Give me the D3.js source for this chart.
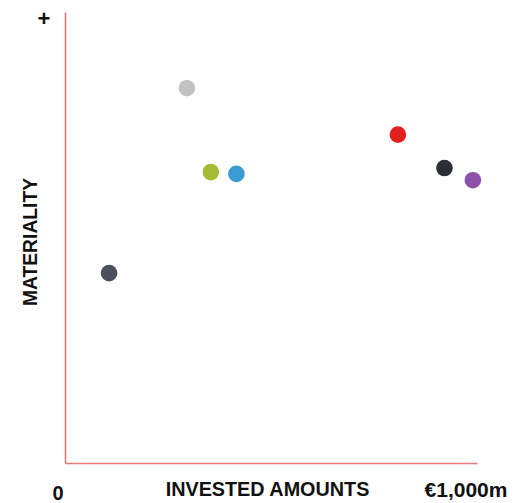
<!DOCTYPE html>
<html>
<head>
<meta charset="utf-8">
<script src="https://cdn.jsdelivr.net/npm/d3@7"></script>
<style>
  html, body { margin: 0; padding: 0; background: #fff; }
  svg { display: block; }
  text { font-family: "Liberation Sans", Arial, sans-serif; font-weight: 700; fill: #111; }
</style>
</head>
<body>
<svg id="chart" width="515" height="503"></svg>
<script>
// Portfolio positions: invested amount (€m) against materiality score (0–100)
const names = ["A", "B", "C", "D", "E", "F", "G"];
const invested = [107, 296, 354, 416, 808, 921, 990];
const materiality = [42.1, 83.1, 64.5, 64.1, 72.8, 65.4, 62.7];
const colors = ["#4c505c", "#c2c2c2", "#a5ba35", "#3d9bd3", "#e0211f", "#2b2f35", "#8c51a9"];
const xDomain = [0, 1000];
const yDomain = [0, 100];

const svg = d3.select("#chart");
const plot = { left: 65, right: 477, top: 12, bottom: 463 };

const x = d3.scaleLinear().domain(xDomain).range([plot.left, plot.right]);
const y = d3.scaleLinear().domain(yDomain).range([plot.bottom, plot.top]);

const axisColor = "#e77a78";

// Axes as bare lines without ticks
const xAxis = d3.axisBottom(x).tickValues([]).tickSizeOuter(0);
const yAxis = d3.axisLeft(y).tickValues([]).tickSizeOuter(0);

svg.append("g").attr("transform", `translate(0,${plot.bottom})`).call(xAxis)
  .call(g => g.select(".domain").attr("stroke", axisColor).attr("stroke-width", 1.6));
svg.append("g").attr("transform", `translate(${plot.left},0)`).call(yAxis)
  .call(g => g.select(".domain").attr("stroke", axisColor).attr("stroke-width", 1.6));

// Points
svg.append("g").selectAll("circle")
  .data(names)
  .join("circle")
  .attr("cx", (d, i) => x(invested[i]))
  .attr("cy", (d, i) => y(materiality[i]))
  .attr("r", 8.3)
  .attr("fill", (d, i) => colors[i]);

// Labels
svg.append("text").attr("x", 44).attr("y", 26).attr("text-anchor", "middle")
  .style("font-size", "22px").text("+");
svg.append("text").attr("x", 58).attr("y", 499.5).attr("text-anchor", "middle")
  .style("font-size", "20px").text("0");
svg.append("text").attr("x", 267.5).attr("y", 496).attr("text-anchor", "middle")
  .style("font-size", "19.8px").text("INVESTED AMOUNTS");
svg.append("text").attr("x", 466).attr("y", 497).attr("text-anchor", "middle")
  .style("font-size", "21px").text("€1,000m");
svg.append("text").attr("transform", "translate(36.5,242) rotate(-90)").attr("text-anchor", "middle")
  .style("font-size", "19.3px").text("MATERIALITY");
</script>
</body>
</html>
